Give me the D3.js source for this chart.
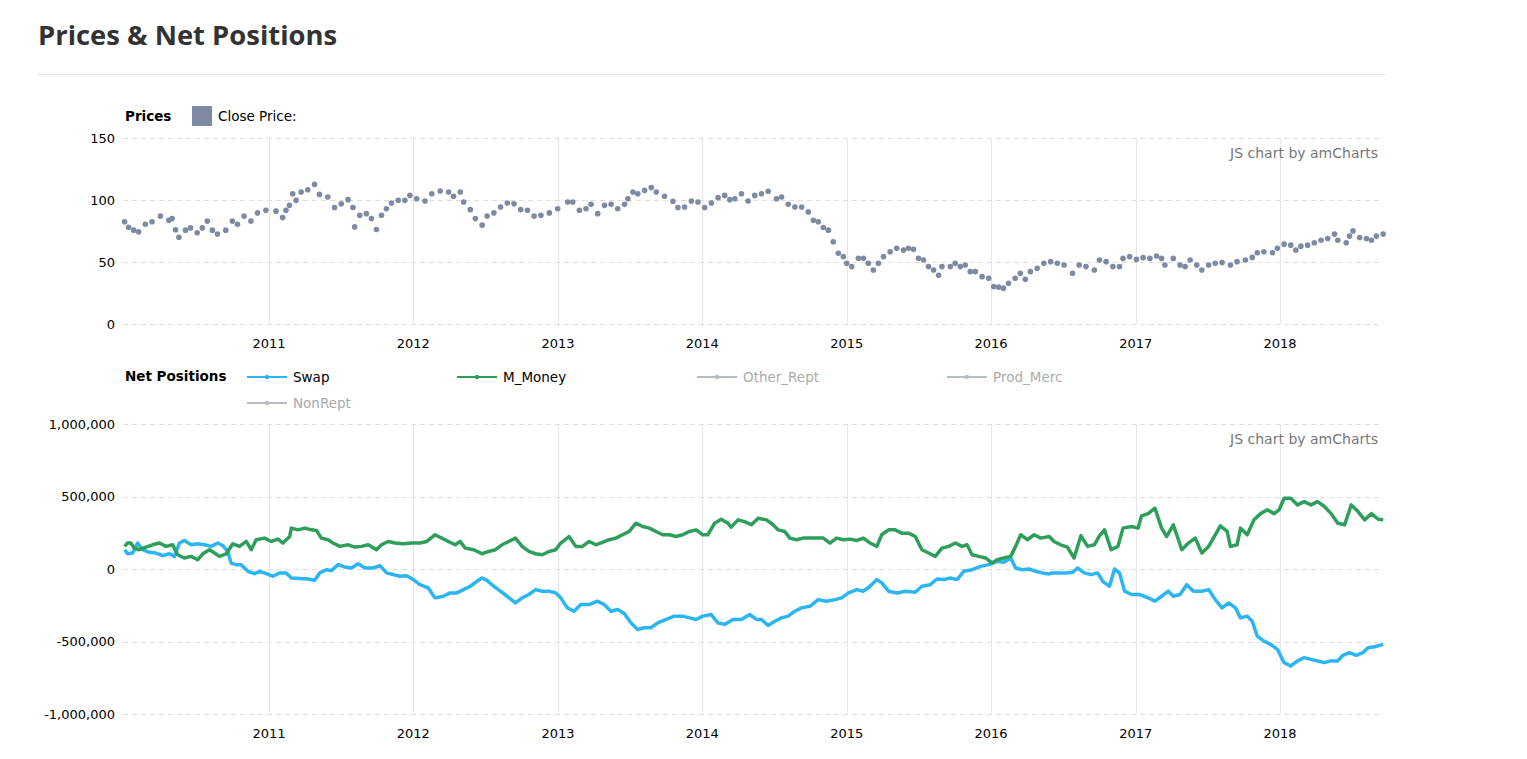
<!DOCTYPE html>
<html>
<head>
<meta charset="utf-8">
<title>Prices & Net Positions</title>
<script src="https://cdnjs.cloudflare.com/ajax/libs/d3/7.8.5/d3.min.js"></script>
<style>
	body { margin: 0; background: #fff; }
	text { font-family: Verdana, "DejaVu Sans", sans-serif; }
	.title { font-family: "Open Sans", sans-serif; font-weight: bold; fill: #333; }
</style>
</head>
<body>
<svg id="chart" width="1527" height="759"></svg>
<script>
// time is a decimal year
var year_ticks = [2011, 2012, 2013, 2014, 2015, 2016, 2017, 2018];
var price_ticks = [0, 50, 100, 150];
var net_ticks = [-1000000, -500000, 0, 500000, 1000000];

// close price, weekly-ish samples
var close_price = [
	[2010.000,82.4],[2010.028,78],[2010.063,75.7],[2010.097,74.3],[2010.144,80.5],[2010.190,82.4],[2010.248,87],[2010.306,83.7],[2010.329,85],[2010.353,76],[2010.376,70],[2010.422,75.7],[2010.457,77.5],[2010.503,73.5],[2010.538,77.5],[2010.573,83],[2010.608,75.7],[2010.643,72.5],[2010.701,75.7],[2010.747,83],[2010.782,80.5],[2010.828,87],[2010.875,83],[2010.921,89.6],[2010.979,91.7],
	[2011.049,91],[2011.095,85.8],[2011.118,91.7],[2011.142,95.7],[2011.165,105],[2011.188,99.7],[2011.223,106.4],[2011.269,108.3],[2011.316,112.6],[2011.350,104.5],[2011.408,102.4],[2011.455,93.9],[2011.501,97],[2011.548,100.3],[2011.582,93.9],[2011.594,78.3],[2011.629,87.7],[2011.675,89],[2011.710,85],[2011.745,76.2],[2011.780,87.7],[2011.814,93],[2011.849,97.6],[2011.896,99.7],[2011.942,99.7],[2011.977,103.7],
	[2012.023,101],[2012.081,99.2],[2012.128,105],[2012.186,107.2],[2012.244,106.4],[2012.278,103],[2012.325,106.4],[2012.348,98.4],[2012.394,92.2],[2012.429,85],[2012.476,79.7],[2012.510,87],[2012.557,89.6],[2012.603,94.4],[2012.650,97.6],[2012.696,97],[2012.742,92.2],[2012.789,91.7],[2012.835,87],[2012.882,87.7],[2012.940,89.6],[2012.998,93],
	[2013.067,98.4],[2013.102,98.4],[2013.148,91.7],[2013.194,93],[2013.229,96.5],[2013.275,89],[2013.322,95.7],[2013.368,96.5],[2013.414,93],[2013.461,96.5],[2013.484,101],[2013.519,106.4],[2013.553,105],[2013.600,107.8],[2013.646,110],[2013.681,106.4],[2013.738,103],[2013.796,99],[2013.831,93.9],[2013.877,94.4],[2013.924,99.2],[2013.970,98.4],
	[2014.016,93.9],[2014.063,97.6],[2014.109,101.9],[2014.155,103.7],[2014.190,100.3],[2014.225,101],[2014.271,105],[2014.317,99.2],[2014.363,103.7],[2014.410,105],[2014.456,107],[2014.514,101],[2014.549,102.4],[2014.595,96.5],[2014.641,94.4],[2014.688,94.4],[2014.734,90.4],[2014.769,83.7],[2014.803,82.4],[2014.838,77.8],[2014.873,75.7],[2014.907,66.3],[2014.942,57],[2014.977,54.3],
	[2015.000,49],[2015.035,46.3],[2015.081,53],[2015.116,53],[2015.150,49],[2015.185,43.6],[2015.220,49],[2015.255,54.3],[2015.301,58.3],[2015.347,61],[2015.394,59.6],[2015.428,61],[2015.463,60.2],[2015.498,53],[2015.532,51.6],[2015.567,46.3],[2015.602,43.6],[2015.637,39.3],[2015.660,46.3],[2015.718,46.3],[2015.752,49],[2015.787,46.3],[2015.822,47.6],[2015.856,42.2],[2015.891,42.2],[2015.938,38.2],[2015.984,36.9],
	[2016.019,30.2],[2016.053,29.7],[2016.086,28.9],[2016.121,32.9],[2016.167,36.9],[2016.202,40.9],[2016.237,36.1],[2016.272,42.2],[2016.319,44.9],[2016.365,48.9],[2016.412,50.3],[2016.458,48.9],[2016.505,47.6],[2016.563,40.9],[2016.609,47.6],[2016.656,46.3],[2016.714,43.6],[2016.749,51.6],[2016.795,50.3],[2016.842,46.3],[2016.888,46.3],[2016.912,52.9],[2016.958,54.3],
	[2017.005,52.1],[2017.051,53.5],[2017.098,52.9],[2017.144,54.8],[2017.179,52.9],[2017.202,47.6],[2017.260,52.9],[2017.307,47.6],[2017.342,46.3],[2017.377,51.6],[2017.423,47.6],[2017.458,43.6],[2017.505,47.6],[2017.551,48.9],[2017.598,49.5],[2017.656,47.6],[2017.702,50.3],[2017.760,51.6],[2017.807,53.7],[2017.842,57.5],[2017.888,58.3],[2017.947,57.5],[2017.981,61],
	[2018.028,64.4],[2018.074,63.6],[2018.109,59.6],[2018.144,62.8],[2018.191,63.6],[2018.237,65.5],[2018.284,67.6],[2018.330,69],[2018.377,72.5],[2018.400,67.6],[2018.458,65.5],[2018.481,70.9],[2018.505,75.1],[2018.551,69.8],[2018.598,69],[2018.633,67.6],[2018.667,70.9],[2018.714,72.5]
];

// net positions, in thousands of contracts
var swap_net = [
	[2010.000,133],[2010.021,105],[2010.056,110],[2010.090,179],[2010.125,133],[2010.171,115],[2010.218,110],[2010.264,92],[2010.310,105],[2010.345,87],[2010.380,179],[2010.414,197],[2010.461,167],[2010.507,174],[2010.553,167],[2010.600,156],[2010.646,179],[2010.681,160],[2010.715,121],[2010.738,41],[2010.773,30],[2010.808,30],[2010.854,-16],[2010.900,-32],[2010.935,-16],[2010.981,-32],
	[2011.028,-50],[2011.074,-27],[2011.120,-27],[2011.155,-62],[2011.213,-66],[2011.271,-69],[2011.317,-78],[2011.352,-27],[2011.398,-5],[2011.433,-11],[2011.479,30],[2011.525,14],[2011.572,7],[2011.618,37],[2011.664,7],[2011.722,7],[2011.769,23],[2011.815,-27],[2011.861,-39],[2011.907,-50],[2011.954,-46],
	[2012.000,-73],[2012.046,-108],[2012.104,-131],[2012.150,-199],[2012.208,-188],[2012.255,-165],[2012.301,-165],[2012.347,-142],[2012.394,-119],[2012.440,-85],[2012.475,-62],[2012.509,-78],[2012.556,-119],[2012.602,-153],[2012.648,-188],[2012.706,-234],[2012.752,-199],[2012.799,-176],[2012.845,-142],[2012.891,-153],[2012.938,-153],[2012.984,-165],
	[2013.019,-199],[2013.065,-268],[2013.111,-291],[2013.158,-245],[2013.216,-245],[2013.273,-222],[2013.320,-245],[2013.366,-291],[2013.413,-279],[2013.459,-307],[2013.505,-371],[2013.552,-417],[2013.598,-405],[2013.644,-405],[2013.691,-371],[2013.749,-348],[2013.806,-325],[2013.864,-325],[2013.911,-337],[2013.957,-348],
	[2014.003,-325],[2014.061,-314],[2014.108,-371],[2014.154,-382],[2014.212,-348],[2014.270,-348],[2014.328,-314],[2014.374,-348],[2014.409,-348],[2014.455,-389],[2014.502,-360],[2014.548,-337],[2014.594,-325],[2014.641,-291],[2014.687,-268],[2014.745,-257],[2014.803,-211],[2014.861,-222],[2014.919,-211],[2014.965,-199],
	[2015.012,-165],[2015.070,-142],[2015.116,-153],[2015.162,-119],[2015.209,-73],[2015.243,-96],[2015.290,-153],[2015.348,-165],[2015.406,-153],[2015.475,-160],[2015.521,-119],[2015.579,-108],[2015.626,-69],[2015.672,-73],[2015.718,-62],[2015.765,-73],[2015.811,-16],[2015.869,-5],[2015.927,18],[2015.985,30],
	[2016.043,53],[2016.089,46],[2016.136,76],[2016.170,7],[2016.217,-5],[2016.263,0],[2016.309,-16],[2016.356,-27],[2016.402,-34],[2016.423,-27],[2016.470,-27],[2016.516,-27],[2016.563,-23],[2016.598,7],[2016.644,-27],[2016.691,-39],[2016.737,-27],[2016.772,-85],[2016.819,-119],[2016.853,0],[2016.888,-27],[2016.923,-153],[2016.970,-176],
	[2017.028,-176],[2017.086,-199],[2017.133,-222],[2017.179,-188],[2017.226,-153],[2017.260,-188],[2017.307,-176],[2017.353,-108],[2017.400,-153],[2017.458,-153],[2017.505,-142],[2017.551,-211],[2017.598,-268],[2017.644,-234],[2017.691,-268],[2017.726,-337],[2017.772,-325],[2017.807,-360],[2017.842,-463],[2017.888,-497],[2017.935,-520],[2017.981,-554],
	[2018.028,-646],[2018.074,-669],[2018.121,-634],[2018.167,-611],[2018.214,-623],[2018.260,-634],[2018.307,-646],[2018.353,-634],[2018.400,-634],[2018.435,-595],[2018.481,-577],[2018.528,-595],[2018.574,-577],[2018.609,-543],[2018.656,-536],[2018.714,-520]
];

var m_money_net = [
	[2010.000,156],[2010.021,179],[2010.044,179],[2010.067,144],[2010.102,133],[2010.148,151],[2010.194,167],[2010.241,179],[2010.287,156],[2010.333,167],[2010.368,98],[2010.414,76],[2010.461,87],[2010.507,64],[2010.542,105],[2010.588,133],[2010.623,110],[2010.657,87],[2010.704,105],[2010.750,174],[2010.796,156],[2010.843,190],[2010.877,133],[2010.912,202],[2010.970,213],
	[2011.016,190],[2011.063,206],[2011.097,179],[2011.144,224],[2011.155,282],[2011.201,270],[2011.248,282],[2011.294,270],[2011.329,266],[2011.363,213],[2011.410,202],[2011.444,179],[2011.491,156],[2011.549,167],[2011.595,151],[2011.641,156],[2011.688,167],[2011.745,133],[2011.780,167],[2011.826,190],[2011.873,179],[2011.931,174],[2011.988,179],
	[2012.046,179],[2012.093,190],[2012.150,236],[2012.197,213],[2012.243,190],[2012.289,167],[2012.324,190],[2012.359,144],[2012.417,133],[2012.475,105],[2012.521,121],[2012.567,133],[2012.613,167],[2012.660,190],[2012.706,213],[2012.752,156],[2012.799,121],[2012.845,105],[2012.891,98],[2012.938,121],[2012.984,133],
	[2013.019,179],[2013.076,224],[2013.123,156],[2013.169,156],[2013.216,190],[2013.262,167],[2013.308,183],[2013.355,202],[2013.401,213],[2013.447,236],[2013.494,259],[2013.540,316],[2013.586,293],[2013.633,282],[2013.679,259],[2013.725,236],[2013.772,236],[2013.818,224],[2013.864,236],[2013.911,259],[2013.957,270],
	[2014.003,236],[2014.038,236],[2014.085,316],[2014.131,343],[2014.177,316],[2014.200,289],[2014.247,339],[2014.293,327],[2014.340,305],[2014.386,350],[2014.444,339],[2014.490,305],[2014.525,270],[2014.571,259],[2014.606,213],[2014.652,202],[2014.699,213],[2014.745,213],[2014.791,213],[2014.838,213],[2014.884,179],[2014.930,213],[2014.977,202],
	[2015.023,206],[2015.070,197],[2015.116,213],[2015.162,179],[2015.209,156],[2015.243,236],[2015.290,270],[2015.336,270],[2015.382,247],[2015.429,247],[2015.475,224],[2015.521,133],[2015.568,110],[2015.614,87],[2015.660,144],[2015.707,156],[2015.753,179],[2015.800,156],[2015.834,167],[2015.869,98],[2015.915,87],[2015.962,76],
	[2016.008,41],[2016.043,64],[2016.089,76],[2016.136,87],[2016.170,156],[2016.205,236],[2016.251,202],[2016.298,236],[2016.344,213],[2016.402,224],[2016.435,190],[2016.481,167],[2016.528,151],[2016.574,76],[2016.621,229],[2016.667,156],[2016.714,167],[2016.749,229],[2016.784,270],[2016.830,133],[2016.877,156],[2016.912,282],[2016.970,293],
	[2017.016,282],[2017.040,366],[2017.086,382],[2017.133,419],[2017.179,282],[2017.214,224],[2017.260,305],[2017.319,133],[2017.365,179],[2017.412,213],[2017.458,110],[2017.505,156],[2017.551,236],[2017.586,298],[2017.633,259],[2017.656,156],[2017.702,167],[2017.726,282],[2017.772,236],[2017.819,339],[2017.865,382],[2017.912,408],[2017.958,382],[2017.993,408],
	[2018.028,488],[2018.074,488],[2018.121,442],[2018.167,465],[2018.214,442],[2018.260,465],[2018.307,431],[2018.353,382],[2018.400,316],[2018.447,305],[2018.493,442],[2018.540,396],[2018.586,339],[2018.633,382],[2018.679,343],[2018.714,339]
];

var net_series = ["Swap", "M_Money", "Other_Rept", "Prod_Merc", "NonRept"];
var net_shown = [true, true, false, false, false];
var net_colors = ["#2bb5f2", "#2e9e5b", "#b8bcc6", "#b8bcc6", "#b8bcc6"];
// legend slots, as laid out in the picture
var legend_pos = [[247, 377], [457, 377], [697, 377], [947, 377], [247, 403]];

var svg = d3.select("#chart");
var left = 123, right = 1383;

function to_date(t){
	var y = Math.floor(t);
	var a = Date.UTC(y, 0, 1), b = Date.UTC(y + 1, 0, 1);
	return new Date(a + (t - y) * (b - a));
}

var x = d3.scaleUtc()
	.domain([to_date(2009.989), to_date(2018.713)])
	.range([left, right]);

// header
svg.append("text").attr("class", "title")
	.attr("x", 38).attr("y", 45)
	.style("font-size", "27.4px")
	.text("Prices & Net Positions");
svg.append("line")
	.attr("x1", 38).attr("x2", 1385)
	.attr("y1", 74.5).attr("y2", 74.5)
	.attr("stroke", "#e6e6e6");

function draw_panel(y, ticks, fmt, label_y){
	var g = svg.append("g");
	g.selectAll(".hgrid").data(ticks).enter().append("line")
		.attr("x1", left).attr("x2", right)
		.attr("y1", function(d){ return Math.round(y(d)) + 0.5; })
		.attr("y2", function(d){ return Math.round(y(d)) + 0.5; })
		.attr("stroke", "#dedede")
		.attr("stroke-dasharray", "5,4");
	g.selectAll(".vgrid").data(year_ticks).enter().append("line")
		.attr("x1", function(d){ return Math.round(x(to_date(d))) + 0.5; })
		.attr("x2", function(d){ return Math.round(x(to_date(d))) + 0.5; })
		.attr("y1", y.range()[1]).attr("y2", y.range()[0])
		.attr("stroke", "#e6e6e6");
	g.selectAll(".ylab").data(ticks).enter().append("text")
		.attr("x", 115)
		.attr("y", function(d){ return y(d) + 4.5; })
		.attr("text-anchor", "end")
		.style("font-size", "13px")
		.attr("fill", "#000")
		.text(fmt);
	g.selectAll(".xlab").data(year_ticks).enter().append("text")
		.attr("x", function(d){ return x(to_date(d)); })
		.attr("y", label_y)
		.attr("text-anchor", "middle")
		.style("font-size", "13px")
		.attr("fill", "#000")
		.text(function(d){ return d; });
	g.append("text")
		.attr("x", 1378).attr("y", y.range()[1] + 20)
		.attr("text-anchor", "end")
		.style("font-size", "14px")
		.attr("fill", "#777")
		.text("JS chart by amCharts");
	return g;
}

// prices panel
var y_price = d3.scaleLinear().domain([0, 150]).range([324, 138]);
draw_panel(y_price, price_ticks, function(d){ return d; }, 348);

svg.append("text").attr("x", 125).attr("y", 121)
	.style("font-size", "13.5px").style("font-weight", "bold")
	.text("Prices");
svg.append("rect").attr("x", 192).attr("y", 106)
	.attr("width", 20).attr("height", 20)
	.attr("fill", "#7e89a3");
svg.append("text").attr("x", 218).attr("y", 121)
	.style("font-size", "13.5px").attr("fill", "#000")
	.text("Close Price:");

svg.append("g").selectAll("circle").data(close_price).enter().append("circle")
	.attr("cx", function(d){ return x(to_date(d[0])); })
	.attr("cy", function(d){ return y_price(d[1]); })
	.attr("r", 2.8)
	.attr("fill", "#7e89a3");

// net positions panel
var y_net = d3.scaleLinear().domain([-1000000, 1000000]).range([714, 424]);
draw_panel(y_net, net_ticks, function(d){ return d3.format(",")(d).replace("\u2212", "-"); }, 738);

svg.append("text").attr("x", 125).attr("y", 381)
	.style("font-size", "13.5px").style("font-weight", "bold")
	.text("Net Positions");

var leg = svg.append("g").selectAll("g").data(net_series).enter().append("g")
	.attr("transform", function(d, i){
		return "translate(" + legend_pos[i][0] + "," + legend_pos[i][1] + ")";
	});
leg.append("line")
	.attr("x1", 0).attr("x2", 40).attr("y1", 0).attr("y2", 0)
	.attr("stroke", function(d, i){ return net_colors[i]; })
	.attr("stroke-width", 2);
leg.append("circle")
	.attr("cx", 20).attr("cy", 0).attr("r", 2.2)
	.attr("fill", function(d, i){ return net_colors[i]; });
leg.append("text")
	.attr("x", 46).attr("y", 4.5)
	.style("font-size", "13.5px")
	.attr("fill", function(d, i){ return net_shown[i] ? "#000" : "#aaa"; })
	.text(function(d){ return d; });

var net_line = d3.line()
	.x(function(d){ return x(to_date(d[0])); })
	.y(function(d){ return y_net(d[1] * 1000); });

svg.append("path").datum(swap_net)
	.attr("d", net_line)
	.attr("fill", "none")
	.attr("stroke", net_colors[0])
	.attr("stroke-width", 3.5)
	.attr("stroke-linejoin", "round");
svg.append("path").datum(m_money_net)
	.attr("d", net_line)
	.attr("fill", "none")
	.attr("stroke", net_colors[1])
	.attr("stroke-width", 3.5)
	.attr("stroke-linejoin", "round");
</script>
</body>
</html>
